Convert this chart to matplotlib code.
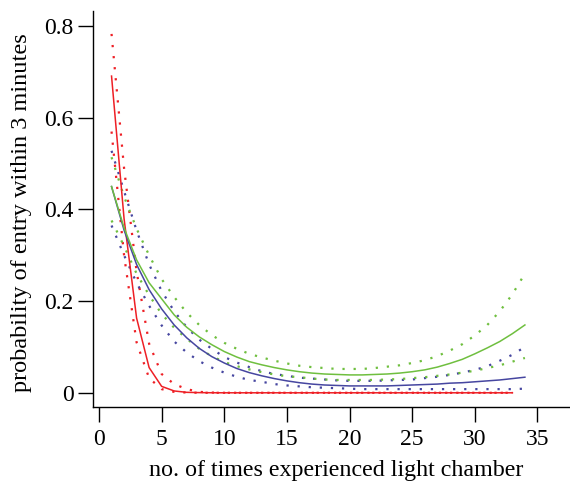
import matplotlib
matplotlib.use("Agg")
import matplotlib.pyplot as plt
import numpy as np

# --- data ---
trials_red = list(range(1, 34))
trials_blue = list(range(1, 35))
trials_green = list(range(1, 35))

red_fit = [0.691, 0.38, 0.163, 0.055, 0.014, 0.004, 0.001, 0.0004, 0.0001] + [0.0] * 24
red_upper = [0.783, 0.49, 0.265, 0.107, 0.041, 0.019, 0.008, 0.002, 0.0005] + [0.0] * 24
red_lower = [0.57, 0.30, 0.11, 0.032, 0.008, 0.002, 0.0005, 0.0001, 0.0] + [0.0] * 24

blue_fit = [0.45, 0.355, 0.28, 0.225, 0.183, 0.148, 0.12, 0.097, 0.079, 0.065,
            0.053, 0.044, 0.037, 0.031, 0.026, 0.022, 0.019, 0.017, 0.016, 0.015,
            0.015, 0.015, 0.015, 0.016, 0.017, 0.018, 0.019, 0.021, 0.022, 0.024,
            0.026, 0.028, 0.031, 0.034]
blue_upper = [0.528, 0.44, 0.354, 0.28, 0.222, 0.178, 0.143, 0.116, 0.096, 0.078,
              0.066, 0.056, 0.047, 0.041, 0.037, 0.033, 0.031, 0.029, 0.027, 0.026,
              0.026, 0.026, 0.027, 0.028, 0.029, 0.032, 0.035, 0.039, 0.044, 0.050,
              0.058, 0.070, 0.083, 0.10]
blue_lower = [0.365, 0.30, 0.24, 0.19, 0.147, 0.112, 0.088, 0.069, 0.055, 0.044,
              0.035, 0.028, 0.024, 0.019, 0.016, 0.014, 0.012, 0.011, 0.010, 0.009,
              0.008, 0.008, 0.008, 0.008, 0.008, 0.008, 0.008, 0.008, 0.008, 0.008,
              0.008, 0.008, 0.008, 0.009]

green_fit = [0.45, 0.36, 0.29, 0.24, 0.205, 0.17, 0.143, 0.122, 0.105, 0.09,
             0.078, 0.068, 0.061, 0.055, 0.050, 0.046, 0.043, 0.041, 0.040, 0.039,
             0.039, 0.040, 0.041, 0.043, 0.046, 0.050, 0.056, 0.064, 0.073, 0.085,
             0.098, 0.112, 0.129, 0.148]
green_upper = [0.514, 0.428, 0.358, 0.30, 0.248, 0.209, 0.175, 0.148, 0.126, 0.109,
               0.096, 0.085, 0.077, 0.070, 0.064, 0.059, 0.056, 0.054, 0.052, 0.052,
               0.052, 0.054, 0.057, 0.060, 0.065, 0.071, 0.080, 0.092, 0.106, 0.125,
               0.148, 0.178, 0.215, 0.26]
green_lower = [0.376, 0.32, 0.26, 0.213, 0.172, 0.142, 0.118, 0.096, 0.08, 0.067,
               0.058, 0.051, 0.045, 0.040, 0.036, 0.034, 0.031, 0.029, 0.028, 0.028,
               0.028, 0.028, 0.029, 0.030, 0.032, 0.034, 0.037, 0.040, 0.044, 0.048,
               0.054, 0.060, 0.068, 0.076]

x_ticks = [0, 5, 10, 15, 20, 25, 30, 35]
y_ticks = [0, 0.2, 0.4, 0.6, 0.8]
y_tick_labels = ["0", "0.2", "0.4", "0.6", "0.8"]

RED = "#ee1f25"
BLUE = "#4646a0"
GREEN = "#6fbf3f"

plt.rcParams["font.family"] = ["Liberation Serif", "DejaVu Serif"]
plt.rcParams["font.size"] = 17

fig = plt.figure(figsize=(5.7, 4.84), dpi=100)
ax = fig.add_axes([93 / 570, 1 - 407 / 484, 1 - 93 / 570, (407 - 11) / 484])

dotted = (0, (1, 4.0))
series = [
    (trials_red, red_fit, red_upper, red_lower, RED),
    (trials_blue, blue_fit, blue_upper, blue_lower, BLUE),
    (trials_green, green_fit, green_upper, green_lower, GREEN),
]
# confidence bands first, fitted curves on top
for xs, fit, up, lo, col in series:
    ax.plot(xs, up, color=col, lw=1.6, linestyle=dotted, dash_capstyle="butt")
    ax.plot(xs, lo, color=col, lw=1.6, linestyle=dotted, dash_capstyle="butt")
for xs, fit, up, lo, col in series:
    ax.plot(xs, fit, color=col, lw=1.1)

ax.set_xlim(-0.48, 37.6)
ax.set_ylim(-0.031, 0.833)

for side in ["top", "right"]:
    ax.spines[side].set_visible(False)
for side in ["left", "bottom"]:
    ax.spines[side].set_linewidth(1.0)

ax.set_xticks(x_ticks)
ax.set_yticks(y_ticks)
ax.set_yticklabels(y_tick_labels)
ax.tick_params(axis="x", direction="out", length=10.5, width=1.0, pad=5)
ax.tick_params(axis="y", direction="out", length=11, width=1.0, pad=3)

ax.set_xlabel("no. of times experienced light chamber", fontsize=17.3)
ax.xaxis.set_label_coords(0.51, -0.135)
ax.set_ylabel("probability of entry within 3 minutes", fontsize=17.5)
ax.yaxis.set_label_coords(-0.128, 0.49)

fig.savefig("out.png", dpi=100)
